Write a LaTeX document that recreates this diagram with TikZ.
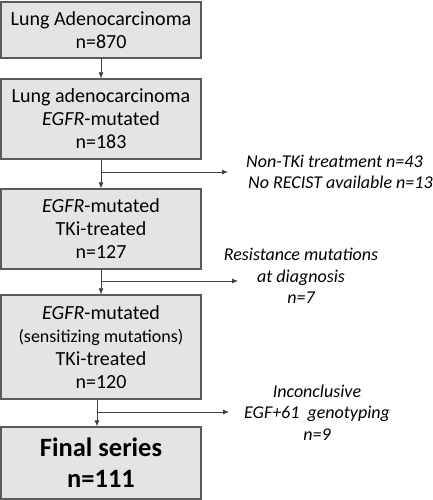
\documentclass[tikz,border=0pt]{standalone}
\usepackage{fontspec}
\setmainfont{Carlito}
\usetikzlibrary{arrows.meta,calc}
\definecolor{boxfill}{HTML}{E4E4E4}
\definecolor{boxline}{HTML}{5A5A5A}
\definecolor{arrline}{HTML}{404040}
\tikzset{
  flowbox/.style={draw=boxline, line width=1.2pt, fill=boxfill, minimum width=200pt, inner sep=0pt, align=center, font={\fontsize{20}{23}\selectfont}},
  finalbox/.style={flowbox, font={\fontsize{26.5}{31}\selectfont\bfseries}},
  sidetext/.style={inner sep=0pt, font={\fontsize{18}{21.5}\selectfont\itshape}},
  flowarrow/.style={draw=arrline, line width=0.8pt, -{Latex[length=6pt,width=5pt]}},
}
\begin{document}
\begin{tikzpicture}[x=1pt,y=-1pt]
\useasboundingbox (0,0) rectangle (432,500);
\node[flowbox, minimum height=56pt] (b1) at (101,30) {Lung Adenocarcinoma\\n=870};
\node[flowbox, minimum height=80pt] (b2) at (101,119) {Lung adenocarcinoma\\\textit{EGFR}-mutated\\n=183};
\node[flowbox, minimum height=80pt] (b3) at (101,229) {\textit{EGFR}-mutated\\TKi-treated\\n=127};
\node[flowbox, minimum height=104pt] (b4) at (101,347) {\textit{EGFR}-mutated\\{\fontsize{18}{23}\selectfont(sensitizing mutations)}\\TKi-treated\\n=120};
\node[finalbox, minimum height=72pt] (b5) at (101,463) {Final series\\n=111};

\node[sidetext, anchor=west, align=left] (t1) at (246,172) {Non-TKi treatment n=43\\\hspace*{2pt}No RECIST available n=13};
\node[sidetext, align=center] (t2) at (301,276) {Resistance mutations\\at diagnosis\\n=7};
\node[sidetext, align=center] (t3) at (317,412.5) {Inconclusive\\EGF+61\ \ genotyping\\n=9};

\coordinate (j1) at (101,172);
\coordinate (e1) at (228,172);
\coordinate (j2) at (101,281);
\coordinate (e2) at (238,281);
\coordinate (s4) at ($(b4.south)+(-4,0)$);
\coordinate (n5) at ($(b5.north)+(-4,0)$);
\coordinate (j3) at (97,412);
\coordinate (e3) at (229,412);

\draw[flowarrow] (b1.south) -- (b2.north);
\draw[flowarrow] (b2.south) -- (b3.north);
\draw[flowarrow] (j1) -- (e1);
\draw[flowarrow] (b3.south) -- (b4.north);
\draw[flowarrow] (j2) -- (e2);
\draw[flowarrow] (s4) -- (n5);
\draw[flowarrow] (j3) -- (e3);
\end{tikzpicture}
\end{document}
